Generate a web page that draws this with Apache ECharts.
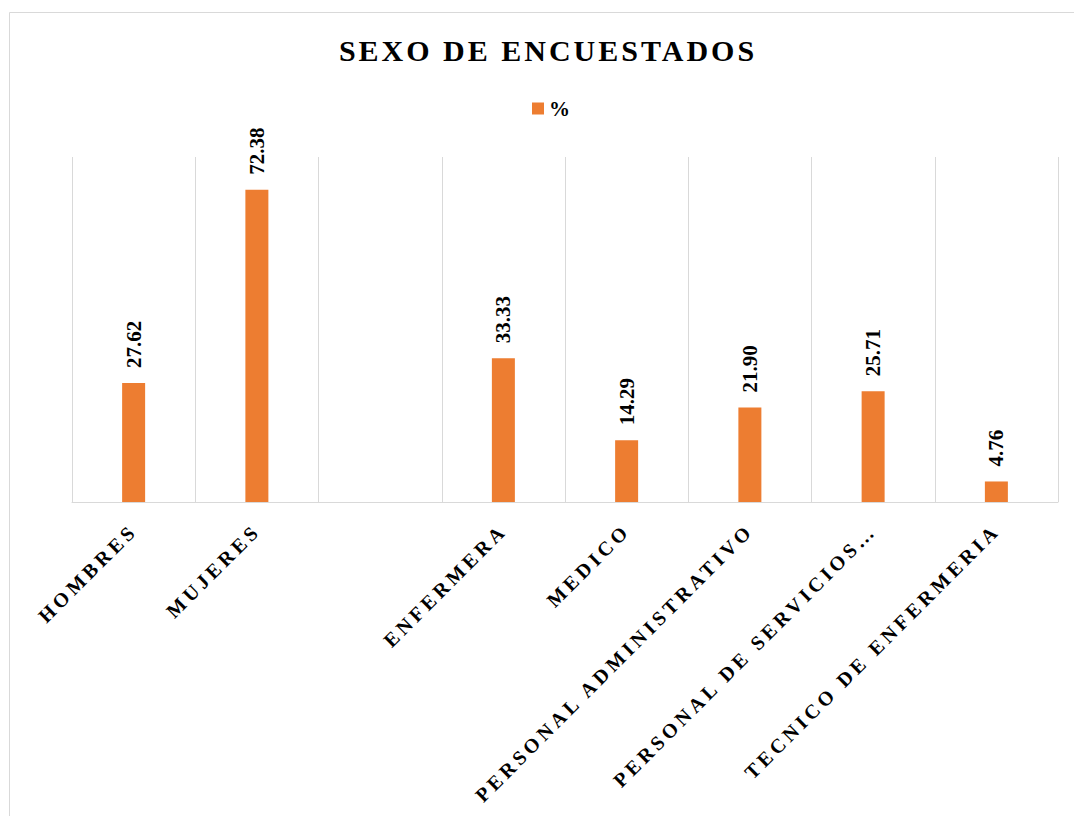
<!DOCTYPE html>
<html>
<head>
<meta charset="utf-8">
<script src="https://cdn.jsdelivr.net/npm/echarts@6/dist/echarts.min.js"></script>
<style>
  html, body { margin: 0; padding: 0; background: #fff; }
  #chart { width: 1074px; height: 816px; }
  /* spaced capitals like the office chart */
  #chart text { letter-spacing: 4px; }
  #chart text[style*="30px"], #chart text[font-size*="30"] { letter-spacing: 3px; }
  #chart text[style*="DejaVu"], #chart text[font-family*="DejaVu"] { letter-spacing: 0; }
</style>
</head>
<body>
<div id="chart"></div>
<script>
// datos
var categorias = ['HOMBRES', 'MUJERES', '', 'ENFERMERA', 'MEDICO', 'PERSONAL ADMINISTRATIVO', 'PERSONAL DE SERVICIOS…', 'TECNICO DE ENFERMERIA'];
var porcentajes = [27.62, 72.38, null, 33.33, 14.29, 21.90, 25.71, 4.76];
var nombreSerie = '%';
var titulo = 'SEXO DE ENCUESTADOS';

var serifFont = 'Liberation Serif';
var numFont = "'Liberation Serif', 'DejaVu Serif'";

var chart = echarts.init(document.getElementById('chart'), null, { renderer: 'svg' });

var option = {
    backgroundColor: '#ffffff',
    animation: false,
    title: {
        text: titulo,
        left: 543,
        top: 30,
        textAlign: 'center',
        textStyle: {
            fontFamily: serifFont,
            fontWeight: 'bold',
            fontSize: 30,
            color: '#000000'
        }
    },
    legend: {
        data: [nombreSerie],
        left: 527,
        top: 93,
        icon: 'rect',
        itemWidth: 12,
        itemHeight: 12,
        itemGap: 10,
        textStyle: {
            fontFamily: numFont,
            fontWeight: 'bold',
            fontSize: 21,
            color: '#000000'
        }
    },
    graphic: [{
        type: 'rect',
        shape: { x: 9.5, y: 12.5, width: 1200, height: 1000 },
        style: { fill: 'none', stroke: '#d9d9d9', lineWidth: 1 },
        silent: true
    }],
    grid: {
        left: 72,
        right: 16,
        top: 157,
        bottom: 314
    },
    xAxis: {
        type: 'category',
        data: categorias,
        axisLine: { lineStyle: { color: '#d9d9d9', width: 1 } },
        axisTick: { show: false },
        splitLine: { show: true, lineStyle: { color: '#d9d9d9', width: 1 } },
        axisLabel: {
            interval: 0,
            rotate: 45,
            margin: 25,
            fontFamily: serifFont,
            fontWeight: 'bold',
            fontSize: 20,
            color: '#000000'
        }
    },
    yAxis: {
        type: 'value',
        min: 0,
        max: 80,
        show: false,
        splitLine: { show: false }
    },
    series: [{
        name: nombreSerie,
        type: 'bar',
        data: porcentajes,
        barWidth: 23,
        itemStyle: { color: '#ED7D31' },
        label: {
            show: true,
            position: 'top',
            distance: 15,
            rotate: 90,
            align: 'left',
            verticalAlign: 'middle',
            formatter: function (p) { return p.value == null ? '' : p.value.toFixed(2); },
            fontFamily: numFont,
            fontWeight: 'bold',
            fontSize: 21,
            color: '#000000'
        }
    }]
};

chart.setOption(option);
</script>
</body>
</html>
